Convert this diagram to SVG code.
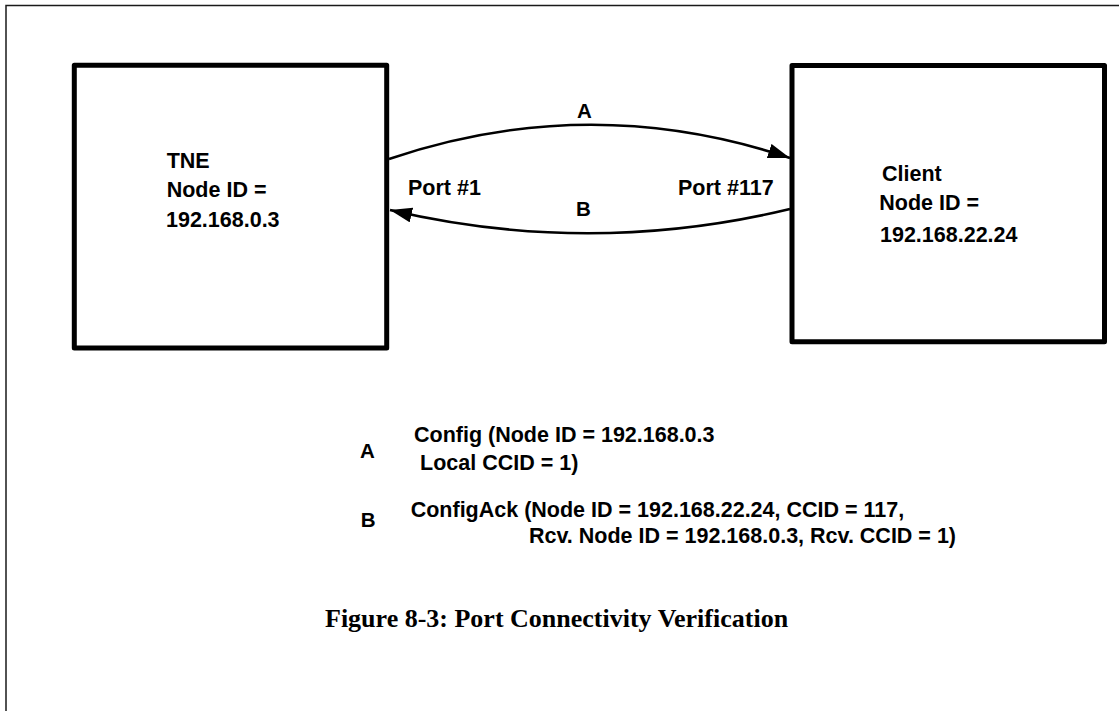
<svg xmlns="http://www.w3.org/2000/svg" width="1119" height="711" viewBox="0 0 1119 711">
  <style>
    .box { fill: #ffffff; stroke: #000000; stroke-width: 5; stroke-linejoin: round; }
    .link { fill: none; stroke: #000000; stroke-width: 2.6; }
    .lbl { font-family: "Liberation Sans", Arial, sans-serif; font-weight: bold; font-size: 21.5px; fill: #000000; }
    .tag { font-family: "Liberation Sans", Arial, sans-serif; font-weight: bold; font-size: 20.5px; fill: #000000; }
    .caption { font-family: "Liberation Serif", "Times New Roman", serif; font-weight: bold; font-size: 26px; fill: #000000; }
  </style>
  <defs>
    <marker id="arrowhead" markerUnits="userSpaceOnUse" markerWidth="24" markerHeight="16" refX="22" refY="7.5" orient="auto">
      <path d="M0,0 L22,7.5 L0,15 Z" fill="#000000"/>
    </marker>
  </defs>

  <rect width="1119" height="711" fill="#ffffff"/>

  <!-- page frame (left and top edges) -->
  <path d="M6,711 V5.5 H1119" fill="none" stroke="#1a1a1a" stroke-width="1.5"/>

  <!-- TNE node -->
  <g id="node-tne">
    <rect class="box" x="74.3" y="65.3" width="312.4" height="282.7"/>
    <text class="lbl" x="166.7" y="168">TNE</text>
    <text class="lbl" x="166.7" y="197">Node ID =</text>
    <text class="lbl" x="166" y="227">192.168.0.3</text>
  </g>

  <!-- Client node -->
  <g id="node-client">
    <rect class="box" x="792" y="65.5" width="312.5" height="276.2"/>
    <text class="lbl" x="882" y="180.5">Client</text>
    <text class="lbl" x="879.3" y="210">Node ID =</text>
    <text class="lbl" x="880" y="242">192.168.22.24</text>
  </g>

  <!-- connectors -->
  <g id="connectors">
    <path id="edge-a" class="link" d="M389,159 Q590,91 790,158" marker-end="url(#arrowhead)"/>
    <path id="edge-b" class="link" d="M790,209 Q590,257 390,210" marker-end="url(#arrowhead)"/>
    <text class="tag" x="577" y="117.7">A</text>
    <text class="tag" x="576" y="216">B</text>
    <text class="lbl" x="408" y="195">Port #1</text>
    <text class="lbl" x="678" y="195">Port #117</text>
  </g>

  <!-- message legend -->
  <g id="legend">
    <text class="tag" x="360" y="458">A</text>
    <text class="lbl" x="414" y="441.7">Config (Node ID = 192.168.0.3</text>
    <text class="lbl" x="420" y="470">Local CCID = 1)</text>
    <text class="tag" x="360.7" y="527">B</text>
    <text class="lbl" x="410.7" y="517">ConfigAck (Node ID = 192.168.22.24, CCID = 117,</text>
    <text class="lbl" x="529" y="543">Rcv. Node ID = 192.168.0.3, Rcv. CCID = 1)</text>
  </g>

  <text class="caption" x="325" y="626.7">Figure 8-3: Port Connectivity Verification</text>
</svg>
